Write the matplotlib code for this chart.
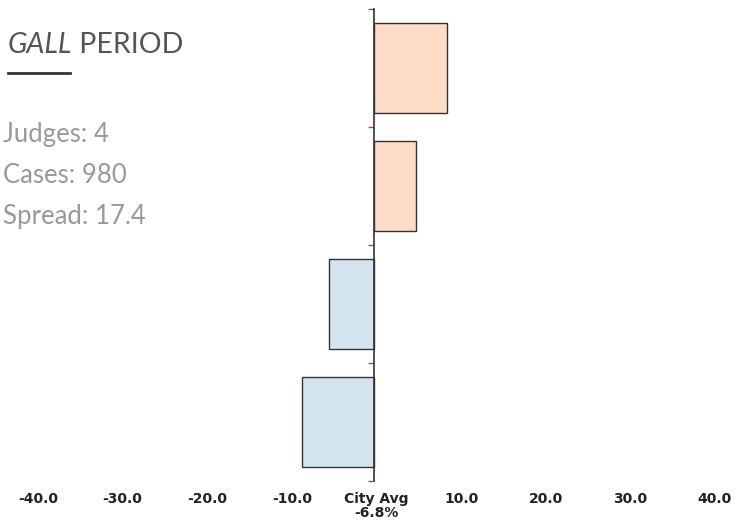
import matplotlib
matplotlib.use("Agg")
import matplotlib.pyplot as plt
from matplotlib.transforms import ScaledTranslation

# data
categories = ["A", "B", "C", "D"]  # top to bottom
values = [8.7, 5.0, -5.2, -8.5]
xticks = [-40, -30, -20, -10, 0, 10, 20, 30, 40]
xtick_labels = ["-40.0", "-30.0", "-20.0", "-10.0", "City Avg\n-6.8%", "10.0", "20.0", "30.0", "40.0"]
title_italic = "GALL"
title_rest = " PERIOD"
stats = ["Judges: 4", "Cases: 980", "Spread: 17.4"]

W, H = 739, 527
fig = plt.figure(figsize=(W / 100, H / 100), dpi=100)
ax = fig.add_axes([35 / W, 1 - 481 / H, (712 - 35) / W, (481 - 9) / H])

pos_col = "#FDDCC8"
neg_col = "#D1E4F0"
ypos = list(range(len(values)))
colors = [pos_col if v >= 0 else neg_col for v in values]
ax.barh(ypos, values, height=0.77, color=colors, edgecolor="#333333", linewidth=1.0, zorder=2)
ax.set_ylim(len(values) - 0.5, -0.5)
ax.set_xlim(-40, 40)

for s in ["top", "right", "bottom"]:
    ax.spines[s].set_visible(False)
ax.spines["left"].set_position(("data", 0))
ax.spines["left"].set_color("#333333")
ax.spines["left"].set_linewidth(1.2)
ax.spines["left"].set_zorder(3)

ax.set_yticks([i - 0.5 for i in range(len(values) + 1)])
ax.set_yticklabels([])
ax.tick_params(axis="y", length=4, width=1, color="#666666", direction="out")

ax.set_xticks(xticks)
ax.set_xticklabels(xtick_labels, fontsize=10, fontweight="bold", family="DejaVu Sans",
                   color="#222222", linespacing=1.0)
ax.tick_params(axis="x", length=0, pad=8)
off = ScaledTranslation(3 / 100, 0, fig.dpi_scale_trans)
for lab in ax.get_xticklabels():
    lab.set_transform(lab.get_transform() + off)

# title and stats
t1 = fig.text(8 / W, 1 - 53 / H, title_italic, fontsize=20.5, family="Lato", style="italic",
              color="#555555", va="baseline", ha="left")
fig.canvas.draw()
bb = t1.get_window_extent()
fig.text(bb.x1 / W, 1 - 53 / H, title_rest, fontsize=20.5, family="Lato", color="#555555",
         va="baseline", ha="left")
fig.add_artist(plt.Line2D([8 / W, 70 / W], [1 - 73 / H, 1 - 73 / H], color="#333333", linewidth=2.0))

for i, s in enumerate(stats):
    fig.text(3 / W, 1 - (142 + 41 * i) / H, s, fontsize=18.5, family="Lato", fontweight="normal",
             color="#999999", va="baseline", ha="left")

fig.savefig("out.png", dpi=100)
